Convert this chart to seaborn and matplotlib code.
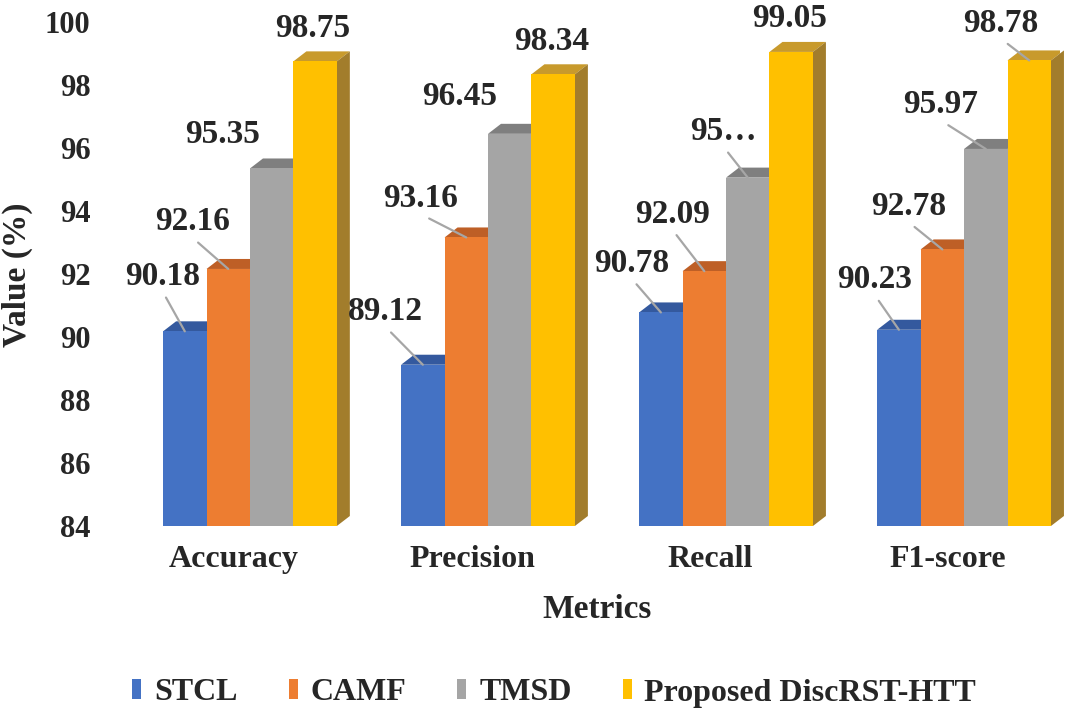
import numpy as np
import pandas as pd
import matplotlib
matplotlib.use("Agg")
import matplotlib.pyplot as plt
import matplotlib.transforms as mtrans
from matplotlib.patches import Polygon, Patch
import seaborn as sns

# ---------------- data ----------------
metrics = ["Accuracy", "Precision", "Recall", "F1-score"]
methods = ["STCL", "CAMF", "TMSD", "Proposed DiscRST-HTT"]
stcl = [90.18, 89.12, 90.78, 90.23]
camf = [92.16, 93.16, 92.09, 92.78]
tmsd = [95.35, 96.45, 95.06, 95.97]
proposed = [98.75, 98.34, 99.05, 98.78]
# text shown on the bars (Excel truncated one label)
stcl_labels = ["90.18", "89.12", "90.78", "90.23"]
camf_labels = ["92.16", "93.16", "92.09", "92.78"]
tmsd_labels = ["95.35", "96.45", "95…", "95.97"]
proposed_labels = ["98.75", "98.34", "99.05", "98.78"]

# ---------------- style ----------------
colors = ["#4472C4", "#ED7D31", "#A5A5A5", "#FFC000"]
top_colors = ["#34599E", "#BE5F26", "#7F7F7F", "#C89A2C"]
side_colors = ["#2E4F8C", "#A8521F", "#6E6E6E", "#A27D2C"]
# label offsets in pixels (dx, dy) relative to bar-top centre, and leader flags
offsets = [
    [(-22, -55), (-37, -53), (-29, -49), (-24, -50)],
    [(-36, -47), (-46, -39), (-32, -57), (-34, -43)],
    [(-49, -34), (-50, -37), (-24, -46), (-45, -44)],
    [(-2, -33), (-1, -33), (-2, -33), (-28, -37)],
]
leaders = [
    [True, True, True, True],
    [True, True, True, True],
    [False, False, True, True],
    [False, False, False, True],
]

df = pd.DataFrame({
    "Metric": metrics * 4,
    "Method": np.repeat(methods, 4),
    "Value": stcl + camf + tmsd + proposed,
})
all_labels = [stcl_labels, camf_labels, tmsd_labels, proposed_labels]

sns.set_theme(style="white")
plt.rcParams["font.family"] = ["Liberation Serif", "DejaVu Serif"]
plt.rcParams["font.weight"] = "bold"
txt_color = "#262626"

W, H = 1066, 718
fig = plt.figure(figsize=(W / 100, H / 100), dpi=100)
ax_l, ax_r, ax_b, ax_t = 100, 1060, 526, 22
ax = fig.add_axes([ax_l / W, 1 - ax_b / H, (ax_r - ax_l) / W, (ax_b - ax_t) / H])

sns.barplot(data=df, x="Metric", y="Value", hue="Method", order=metrics,
            hue_order=methods, palette=colors, width=0.73, saturation=1,
            dodge=True, ax=ax, legend=False, linewidth=0, zorder=3)

xlim = (-0.63, 3.403)
ylim = (84, 100)
ax.set_xlim(*xlim)
ax.set_ylim(*ylim)
ax.set_yticks(np.arange(84, 101, 2))
sns.despine(ax=ax, left=True, bottom=True)
ax.grid(False)
ax.tick_params(length=0)
ax.tick_params(axis="y", labelsize=22, pad=7, labelcolor=txt_color)
ax.tick_params(axis="x", labelsize=23, pad=14, labelcolor=txt_color)
for lab in ax.get_yticklabels() + ax.get_xticklabels():
    lab.set_fontweight("bold")
shift = mtrans.ScaledTranslation(-16 / 100, 0, fig.dpi_scale_trans)
for lab in ax.get_xticklabels():
    lab.set_transform(lab.get_transform() + shift)

# 3D depth in data units
px_x = (ax_r - ax_l) / (xlim[1] - xlim[0])
px_y = (ax_b - ax_t) / (ylim[1] - ylim[0])
ddx = 13 / px_x
ddy = 10 / px_y

for ci, cont in enumerate(ax.containers):
    for j, bar in enumerate(cont):
        x0 = bar.get_x()
        w = bar.get_width()
        x1 = x0 + w
        top = bar.get_y() + bar.get_height()
        ax.add_patch(Polygon([(x0, top), (x1, top), (x1 + ddx, top + ddy), (x0 + ddx, top + ddy)],
                             closed=True, facecolor=top_colors[ci], edgecolor="none", zorder=2))
        ax.add_patch(Polygon([(x1, ylim[0]), (x1 + ddx, ylim[0] + ddy), (x1 + ddx, top + ddy), (x1, top)],
                             closed=True, facecolor=side_colors[ci], edgecolor="none", zorder=2,
                             clip_on=False))
        dxp, dyp = offsets[ci][j]
        arrow = None
        if leaders[ci][j]:
            arrow = dict(arrowstyle="-", color="#A6A6A6", lw=1.6, shrinkA=2, shrinkB=0,
                         relpos=(0.5, 0))
        ax.annotate(all_labels[ci][j], xy=(x0 + w / 2, top),
                    xytext=(dxp * 0.72, -dyp * 0.72), textcoords="offset points",
                    ha="center", va="center", fontsize=24, fontweight="bold",
                    color=txt_color, annotation_clip=False, arrowprops=arrow, zorder=5)

ax.set_xlabel("Metrics", fontsize=24, fontweight="bold", color=txt_color)
ax.set_ylabel("Value (%)", fontsize=24, fontweight="bold", color=txt_color)
ax.xaxis.set_label_coords((597 - ax_l) / (ax_r - ax_l), (ax_b - 610) / (ax_b - ax_t))
ax.xaxis.label.set_va("center")
ax.yaxis.set_label_coords((17 - ax_l) / (ax_r - ax_l), (ax_b - 275) / (ax_b - ax_t))
ax.yaxis.label.set_va("center")

handles = [Patch(facecolor=c, edgecolor="none") for c in colors]
fig.legend(handles, methods, loc="center", bbox_to_anchor=(0.52, 1 - 693 / H), ncol=4,
           frameon=False, prop=dict(family="Liberation Serif", weight="bold", size=23),
           handlelength=0.28, handleheight=0.6, handletextpad=0.4, columnspacing=1.6,
           labelcolor=txt_color)

fig.savefig("out.png", dpi=100)
